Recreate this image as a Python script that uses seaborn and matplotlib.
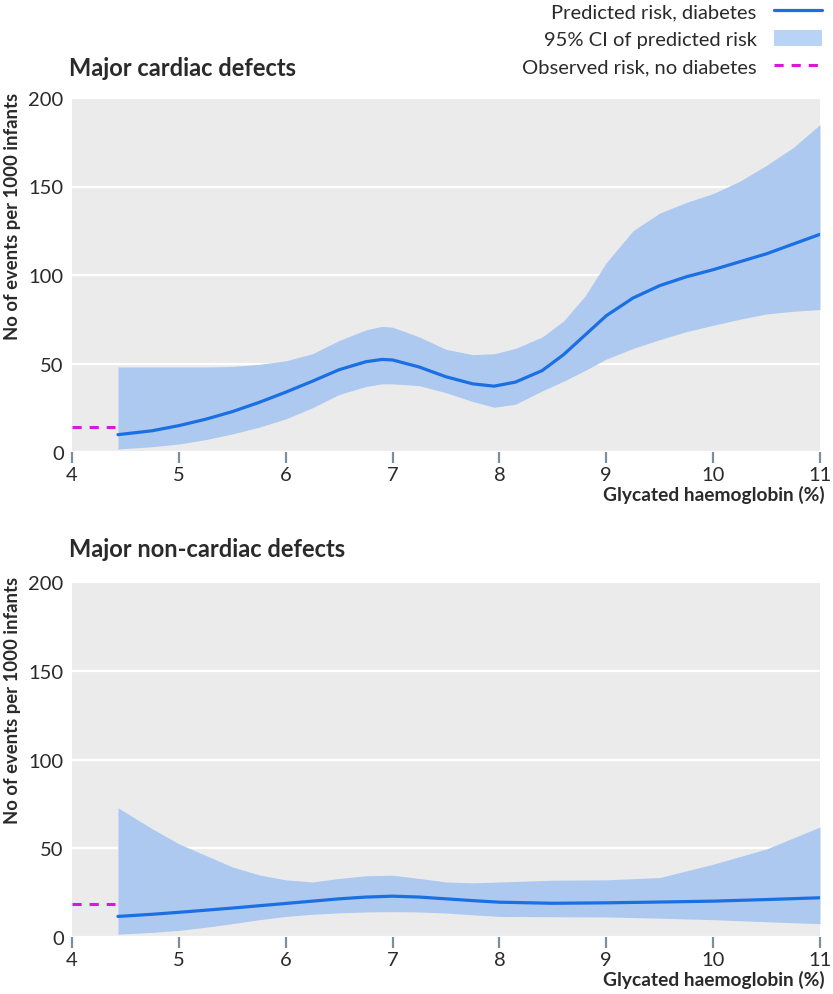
import numpy as np
import pandas as pd
import matplotlib
matplotlib.use("Agg")
import matplotlib.pyplot as plt
from matplotlib.lines import Line2D
from matplotlib.patches import Patch
import seaborn as sns

# ---------------- data ----------------
cardiac_x = [4.43, 4.75, 5.0, 5.25, 5.5, 5.75, 6.0, 6.25, 6.5, 6.75, 6.9, 7.0, 7.25, 7.5, 7.75,
             7.95, 8.15, 8.4, 8.6, 8.8, 9.0, 9.25, 9.5, 9.75, 10.0, 10.25, 10.5, 10.75, 11.0]
cardiac_risk = [9.8, 12, 14.9, 18.5, 22.8, 28, 33.8, 40, 46.5, 51, 52.3, 52, 48, 42.5, 38.5,
                37.2, 39.5, 46, 55, 66, 77, 87, 94, 99, 103, 107.5, 112, 117.5, 123]
cardiac_upper = [48, 48, 48, 48, 48.3, 49.5, 51.5, 55.5, 63, 69, 71, 70.5, 65, 58, 55,
                 55.5, 58.5, 65, 74, 88, 107, 125, 135, 141, 146, 153, 162, 172, 185]
cardiac_lower = [1.7, 3, 4.5, 7, 10.2, 14, 18.7, 25, 32.5, 37, 38.5, 38.5, 37.5, 33.5, 28.5,
                 25.3, 27, 34.5, 40, 46, 52.5, 58.5, 63.5, 68, 71.6, 75, 78, 79.5, 80.5]
cardiac_observed = 14.3

noncardiac_x = [4.43, 4.75, 5.0, 5.25, 5.5, 5.75, 6.0, 6.25, 6.5, 6.75, 7.0, 7.25, 7.5, 7.75,
                8.0, 8.5, 9.0, 9.5, 10.0, 10.5, 11.0]
noncardiac_risk = [11.6, 12.8, 13.9, 15.1, 16.3, 17.6, 18.9, 20.2, 21.5, 22.5, 23, 22.5, 21.5, 20.5,
                   19.6, 19.0, 19.25, 19.7, 20.2, 21.1, 22.1]
noncardiac_upper = [72.8, 61, 52.5, 46, 39.5, 35, 32.2, 31, 33, 34.5, 34.8, 33, 31, 30.5,
                    31, 32, 32.2, 33.5, 41, 49.6, 62]
noncardiac_lower = [1.6, 2.6, 3.7, 5.5, 7.5, 9.7, 11.6, 12.8, 13.6, 14.1, 14.3, 14.1, 13.5, 12.5,
                    11.6, 11.4, 11.3, 10.6, 9.75, 8.6, 7.5]
noncardiac_observed = 18.6

observed_x = [4.0, 4.4]
x_ticks = [4, 5, 6, 7, 8, 9, 10, 11]
y_ticks = [0, 50, 100, 150, 200]

panel_titles = ["Major cardiac defects", "Major non-cardiac defects"]
y_label = "No of events per 1000 infants"
x_label = "Glycated haemoglobin (%)"
legend_labels = ["Predicted risk, diabetes", "95% CI of predicted risk", "Observed risk, no diabetes"]

# ---------------- style ----------------
sns.set_theme(style="darkgrid")
plt.rcParams["font.family"] = ["Lato", "DejaVu Sans"]
plt.rcParams["axes.facecolor"] = "#ebebeb"
plt.rcParams["grid.color"] = "white"
plt.rcParams["grid.linewidth"] = 1.6
plt.rcParams["xtick.direction"] = "out"

LINE = "#1a6fe3"
FILL = "#adc9f0"
MAGENTA = "#d61ad6"
TICKC = "#7a8ea0"
TXT = "#2a2a2a"

fig = plt.figure(figsize=(8.33, 9.95), dpi=100)
W, H = 833, 995
ax_top = fig.add_axes([72 / W, 1 - 453 / H, 748 / W, 354 / H])
ax_bot = fig.add_axes([72 / W, 1 - 938 / H, 748 / W, 355 / H])

panels = [
    (ax_top, cardiac_x, cardiac_risk, cardiac_lower, cardiac_upper, cardiac_observed),
    (ax_bot, noncardiac_x, noncardiac_risk, noncardiac_lower, noncardiac_upper, noncardiac_observed),
]

for i, (ax, xs, risk, lo, hi, obs) in enumerate(panels):
    df = pd.DataFrame({"x": xs, "risk": risk, "lo": lo, "hi": hi})
    ax.fill_between(df["x"], df["lo"], df["hi"], color=FILL, linewidth=0, zorder=2)
    sns.lineplot(data=df, x="x", y="risk", ax=ax, color=LINE, linewidth=2.3, zorder=3)
    obs_df = pd.DataFrame({"x": observed_x, "y": [obs, obs]})
    sns.lineplot(data=obs_df, x="x", y="y", ax=ax, color=MAGENTA, linewidth=2.2,
                 linestyle=(0, (3, 2.6)), zorder=3)

    ax.set_xlim(4, 11)
    ax.set_ylim(0, 200)
    ax.set_xticks(x_ticks)
    ax.set_yticks(y_ticks)
    ax.set_xticklabels([str(t) for t in x_ticks])
    ax.set_yticklabels([str(t) for t in y_ticks])
    ax.grid(axis="x", visible=False)
    ax.grid(axis="y", visible=True, color="white", linewidth=1.6)
    for s in ax.spines.values():
        s.set_visible(False)
    ax.tick_params(axis="x", which="major", bottom=True, direction="out", length=8, width=1.6,
                   color=TICKC, pad=2, labelsize=14.5, labelcolor=TXT)
    ax.tick_params(axis="y", which="major", left=False, length=0, pad=6,
                   labelsize=14.5, labelcolor=TXT)

    ax.set_xlabel(x_label, fontsize=13.8, fontweight="bold", color=TXT)
    ax.xaxis.set_label_coords(1.006, -0.093)
    ax.xaxis.label.set_horizontalalignment("right")
    ax.xaxis.label.set_verticalalignment("top")
    ax.set_ylabel(y_label, fontsize=13.3, fontweight="bold", color=TXT, loc="top")
    ax.yaxis.set_label_coords(-0.068, 1.017)

    ax.set_title(panel_titles[i], loc="left", fontsize=17, fontweight="bold",
                 color=TXT, pad=0, y=1.0 + (22.6 if i == 0 else 26) / 354, x=-0.004)

handles = [
    Line2D([0], [0], color=LINE, linewidth=2.3),
    Patch(facecolor="#b8d3f6", edgecolor="none"),
    Line2D([0], [0], color=MAGENTA, linewidth=2.2, linestyle=(0, (3, 2.6))),
]
leg = fig.legend(handles, legend_labels, loc="upper right", bbox_to_anchor=(822 / W, 1 - 3 / H),
                 frameon=False, markerfirst=False, fontsize=14.5, handlelength=2.4,
                 handleheight=0.9, handletextpad=0.85, labelspacing=0.47, borderpad=0.0,
                 borderaxespad=0.0)
for txt in leg.get_texts():
    txt.set_color(TXT)

fig.savefig("out.png", dpi=100)
